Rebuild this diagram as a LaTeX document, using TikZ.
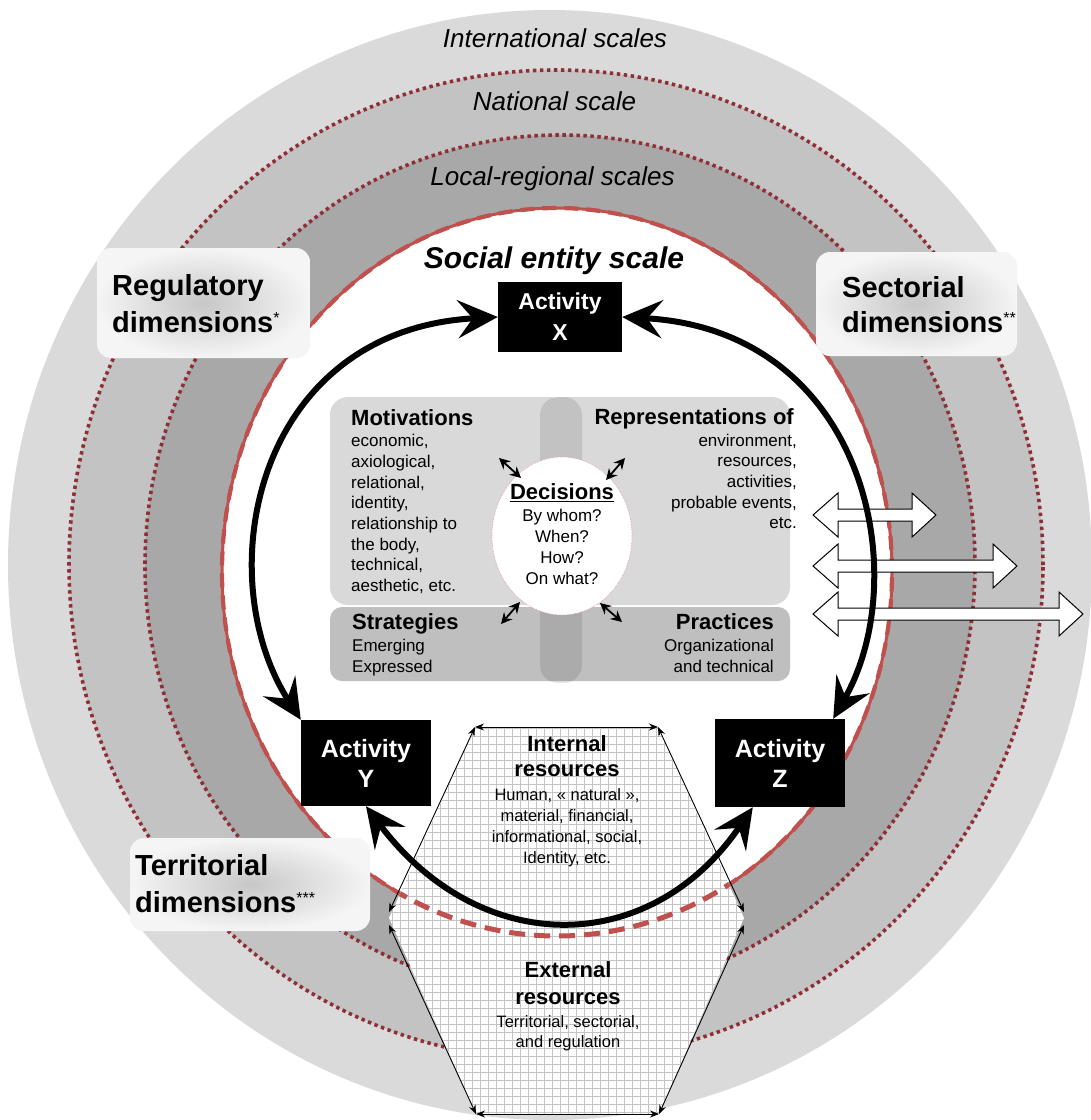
\documentclass[tikz,border=0pt]{standalone}
\usepackage{fontspec}
\setmainfont{Liberation Sans}
\usetikzlibrary{arrows.meta,calc,shapes.geometric}
\definecolor{ringA}{HTML}{DADADA}
\definecolor{ringB}{HTML}{C3C3C3}
\definecolor{ringC}{HTML}{A8A8A8}
\definecolor{dotred}{HTML}{8E2F36}
\definecolor{redline}{HTML}{C0504D}
\definecolor{boxgray}{HTML}{D9D9D9}
\definecolor{bargray}{HTML}{BFBFBF}
\definecolor{gridgray}{HTML}{C4C4C4}
\newcommand{\dblarrow}[3]{\draw[blockarrow] (#1,#3) -- (#1+25,#3-22) -- (#1+25,#3-6) -- (#2-24,#3-6) -- (#2-24,#3-22) -- (#2,#3) -- (#2-24,#3+22) -- (#2-24,#3+6) -- (#1+25,#3+6) -- (#1+25,#3+22) -- cycle;}
\newcommand{\astx}[1]{\raisebox{9pt}{\normalfont\fontsize{16}{16}\selectfont #1}}
\begin{document}
\begin{tikzpicture}[x=1pt,y=-1pt,
  dotring/.style={draw=dotred, line width=3.6pt, dash pattern=on 3.4pt off 3.6pt},
  scalelab/.style={font=\itshape\fontsize{26}{30}\selectfont, anchor=base, inner sep=0pt},
  soclab/.style={font=\bfseries\itshape\fontsize{30}{34}\selectfont, anchor=base, inner sep=0pt},
  dimtxt/.style={font=\bfseries\fontsize{29}{34}\selectfont, anchor=base west, inner sep=0pt},
  dimshade/.style={rounded corners=14pt, inner color=black!22, outer color=black!4},
  headtxt/.style={font=\bfseries\fontsize{22}{26}\selectfont, inner sep=0pt},
  bodytxt/.style={font=\fontsize{17}{20}\selectfont, inner sep=0pt},
  restxt/.style={font=\fontsize{16.5}{20}\selectfont, inner sep=0pt, anchor=base},
  actbox/.style={fill=black, text=white, align=center, inner sep=0pt},
  looparc/.style={line width=6pt, {Stealth[length=40pt,width=38pt,inset=15pt]}-{Stealth[length=40pt,width=38pt,inset=15pt]}},
  smallarr/.style={line width=1.8pt, {Stealth[length=11pt,width=11pt]}-{Stealth[length=11pt,width=11pt]}},
  hexarr/.style={line width=0.9pt, {Stealth[length=9pt,width=7pt]}-{Stealth[length=9pt,width=7pt]}},
  blockarrow/.style={fill=white, draw=black, line width=1pt, line join=miter}
]
\clip (0,0) rectangle (1091,1120);
\fill[white] (0,0) rectangle (1091,1120);

% rings
\fill[ringA] (550,565) ellipse [x radius=542pt, y radius=555pt];
\fill[ringB] (556,565) ellipse [x radius=487pt, y radius=495pt];
\draw[dotring] (556,565) ellipse [x radius=487pt, y radius=495pt];
\fill[ringC] (560,565) ellipse [x radius=415pt, y radius=430pt];
\draw[dotring] (560,565) ellipse [x radius=415pt, y radius=430pt];
\fill[white] (557,572) ellipse [x radius=335pt, y radius=364pt];
\draw[redline, line width=3pt] (557,572) ellipse [x radius=335pt, y radius=364pt];
\draw[redline, line width=4.2pt, dash pattern=on 14pt off 8pt] (557,572) ellipse [x radius=335pt, y radius=364pt];

% scale labels
\node[scalelab] (intl) at (555,47) {International scales};
\node[scalelab] (natl) at (554.5,110) {National scale};
\node[scalelab] (locl) at (552.5,185) {Local-regional scales};
\node[soclab] (soc) at (554,268) {Social entity scale};

% dimension boxes
\shade[dimshade] (97,248) rectangle (310,358);
\node[dimtxt] (reg1) at (112,295) {Regulatory};
\node[dimtxt] (reg2) at (112,332) {dimensions\astx{*}};
\shade[dimshade] (816,252) rectangle (1017,356);
\node[dimtxt] (sec1) at (842,297) {Sectorial};
\node[dimtxt] (sec2) at (842,332) {dimensions\astx{**}};
\shade[dimshade] (130,838) rectangle (370,931);
\node[dimtxt] (ter1) at (135,875) {Territorial};
\node[dimtxt] (ter2) at (135,912) {dimensions\astx{***}};

% central boxes
\fill[boxgray, rounded corners=18pt] (330,397) rectangle (568,605);
\fill[boxgray, rounded corners=18pt] (542,397) rectangle (790,605);
\fill[bargray, rounded corners=12pt] (330,607) rectangle (790,681);
\fill[black, opacity=0.1, rounded corners=18pt] (540,397) rectangle (582,683);

\node[headtxt, anchor=base west] (mot) at (351,425) {Motivations};
\node[bodytxt, anchor=base west] (m1) at (351,446.7) {economic,};
\node[bodytxt, anchor=base west] (m2) at (351,467.4) {axiological,};
\node[bodytxt, anchor=base west] (m3) at (351,488.1) {relational,};
\node[bodytxt, anchor=base west] (m4) at (351,508.8) {identity,};
\node[bodytxt, anchor=base west] (m5) at (351,529.5) {relationship to};
\node[bodytxt, anchor=base west] (m6) at (351,550.2) {the body,};
\node[bodytxt, anchor=base west] (m7) at (351,570.9) {technical,};
\node[bodytxt, anchor=base west] (m8) at (351,591.6) {aesthetic, etc.};

\node[headtxt, anchor=base east] (rep) at (794,424) {Representations of};
\node[bodytxt, anchor=base east] (r1) at (797,446) {environment,};
\node[bodytxt, anchor=base east] (r2) at (797,466.7) {resources,};
\node[bodytxt, anchor=base east] (r3) at (797,487.4) {activities,};
\node[bodytxt, anchor=base east] (r4) at (797,508.1) {probable events,};
\node[bodytxt, anchor=base east] (r5) at (797,528.8) {etc.};

\node[headtxt, anchor=base west] (str) at (352,629.3) {Strategies};
\node[bodytxt, anchor=base west] (s1) at (352,651.7) {Emerging};
\node[bodytxt, anchor=base west] (s2) at (352,672.3) {Expressed};
\node[headtxt, anchor=base east] (pra) at (774,629.3) {Practices};
\node[bodytxt, anchor=base east] (p1) at (774,651.7) {Organizational};
\node[bodytxt, anchor=base east] (p2) at (774,672.3) {and technical};

% decisions
\node[ellipse, minimum width=140pt, minimum height=158pt, fill=white, draw=redline!60, densely dotted, line width=0.6pt] (dec) at (562,536) {};
\node[headtxt, anchor=base] (dect) at (562,499.3) {\underline{Decisions}};
\node[bodytxt, anchor=base] (d1) at (562,521.7) {By whom?};
\node[bodytxt, anchor=base] (d2) at (562,542.3) {When?};
\node[bodytxt, anchor=base] (d3) at (562,563.3) {How?};
\node[bodytxt, anchor=base] (d4) at (562,584) {On what?};
\coordinate (a1o) at (499,458); \coordinate (a1i) at (521,478);
\coordinate (a2o) at (625,458); \coordinate (a2i) at (606,480);
\coordinate (a3o) at (501,624); \coordinate (a3i) at (520,602);
\coordinate (a4o) at (622,622); \coordinate (a4i) at (600,603);
\draw[smallarr] (a1o) -- (a1i);
\draw[smallarr] (a2o) -- (a2i);
\draw[smallarr] (a3o) -- (a3i);
\draw[smallarr] (a4o) -- (a4i);

% resources hexagon
\coordinate (h1) at (475,727);
\coordinate (h2) at (658,727);
\coordinate (h3) at (744,918);
\coordinate (h4) at (659,1114);
\coordinate (h5) at (476,1114);
\coordinate (h6) at (389,918);
\begin{scope}
  \clip (h1) -- (h2) -- (h3) -- (h4) -- (h5) -- (h6) -- cycle;
  \fill[white] (370,700) rectangle (770,1120);
  \draw[gridgray, line width=0.5pt, step=8pt] (370,700) grid (770,1120);
  \draw[redline, line width=5pt, dash pattern=on 16pt off 9pt] (557,572) ellipse [x radius=335pt, y radius=364pt];
\end{scope}
\coordinate (ul) at (389,912); \coordinate (ur) at (744,912);
\coordinate (ll) at (389,925); \coordinate (lr) at (744,925);
\draw[hexarr] (h1) -- (h2);
\draw[hexarr] (h1) -- (ul);
\draw[hexarr] (h2) -- (ur);
\draw[hexarr] (ll) -- (h5);
\draw[hexarr] (lr) -- (h4);
\draw[hexarr] (h5) -- (h4);

\node[headtxt, anchor=base] (int1) at (567,751.7) {Internal};
\node[headtxt, anchor=base] (int2) at (567,776.7) {resources};
\node[restxt] (int3) at (567,800.7) {Human, « natural »,};
\node[restxt] (int4) at (567,821.7) {material, financial,};
\node[restxt] (int5) at (567,842.3) {informational, social,};
\node[restxt] (int6) at (567,863.3) {Identity, etc.};
\node[headtxt, anchor=base] (ext1) at (568,977.3) {External};
\node[headtxt, anchor=base] (ext2) at (568,1004) {resources};
\node[restxt] (ext3) at (568,1027.7) {Territorial, sectorial,};
\node[restxt] (ext4) at (568,1047.7) {and regulation};

% white block arrows
\dblarrow{813}{936}{515}
\dblarrow{813}{1017}{566}
\dblarrow{813}{1083}{614}

% activity boxes
\node[actbox, minimum width=124pt, minimum height=70pt, font=\bfseries\fontsize{23}{31}\selectfont] (X) at (560,317) {Activity\\X};
\node[actbox, minimum width=130pt, minimum height=86pt, font=\bfseries\fontsize{25}{30}\selectfont] (Y) at (366,763) {Activity\\Y};
\node[actbox, minimum width=130pt, minimum height=88pt, font=\bfseries\fontsize{25}{30}\selectfont] (Z) at (780,763) {Activity\\Z};

% loop arcs
\coordinate (zt) at ($(Z.north east)+(-12,0)$);
\coordinate (zb) at ($(Z.south west)+(38,0)$);
\draw[looparc] (Y.north west) .. controls (208,575) and (255,330) .. (X.west);
\draw[looparc] (zt) .. controls (915,575) and (865,330) .. (X.east);
\draw[looparc] (Y.south) .. controls (480,958) and (650,958) .. (zb);
\end{tikzpicture}
\end{document}
